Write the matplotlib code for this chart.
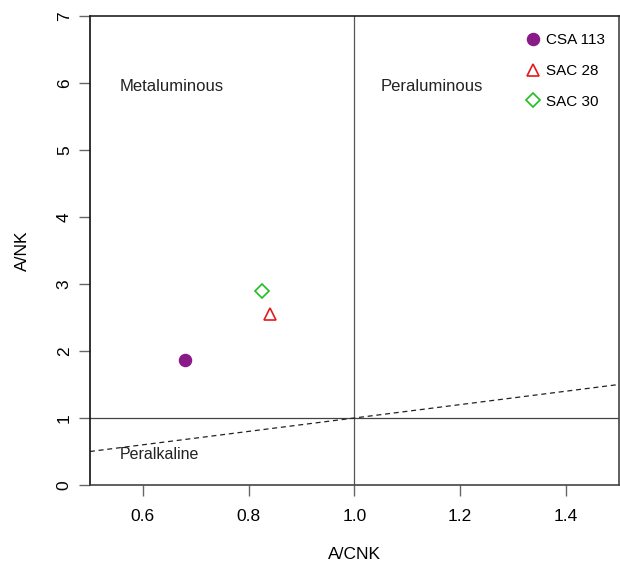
import matplotlib
matplotlib.use("Agg")
import matplotlib.pyplot as plt
import numpy as np

plt.rcParams['font.family'] = ['Liberation Sans', 'DejaVu Sans']

samples = ["CSA 113", "SAC 28", "SAC 30"]
acnk = [0.679, 0.840, 0.825]
ank = [1.87, 2.55, 2.90]
markers = ["o", "^", "D"]
colors = ["#8B1A89", "#E31A1C", "#1FBF1F"]
filled = [True, False, False]

xticks = [0.6, 0.8, 1.0, 1.2, 1.4]
yticks = [0, 1, 2, 3, 4, 5, 6, 7]

fig = plt.figure(figsize=(6.2, 5.65), dpi=100)
ax = fig.add_axes([0.145, 0.1416, 0.853, 0.830])
ax.set_xlim(0.5, 1.5)
ax.set_ylim(0, 7)

# reference lines
ax.axvline(1.0, color="#555555", lw=0.9)
ax.axhline(1.0, color="#444444", lw=0.9)
ax.plot([0.5, 1.5], [0.5, 1.5], ls=(0, (4, 3)), color="#222222", lw=0.9)

handles = []
for s, x, y, m, c, f in zip(samples, acnk, ank, markers, colors, filled):
    size = {"o": 8.5, "^": 8.5, "D": 7}[m]
    h, = ax.plot([x], [y], ls="none", marker=m, ms=size,
                 mfc=c if f else "none", mec=c, mew=1.2, label=s)
    handles.append(h)

ax.legend(handles=handles, loc="upper right", frameon=False, fontsize=11,
          handletextpad=0.25, labelspacing=1.1, bbox_to_anchor=(1.0, 0.993),
          handlelength=1.2, borderaxespad=0.5)

ax.text(0.556, 5.95, "Metaluminous", fontsize=12, ha="left", va="center", color="#222222")
ax.text(1.05, 5.95, "Peraluminous", fontsize=12, ha="left", va="center", color="#222222")
ax.text(0.556, 0.45, "Peralkaline", fontsize=11.5, ha="left", va="center", color="#222222")

ax.set_xticks(xticks)
ax.set_xticklabels([f"{t:.1f}" for t in xticks], fontsize=12.5)
ax.set_yticks(yticks)
ax.set_yticklabels([str(t) for t in yticks], fontsize=12.5, rotation=90, va="center")
ax.tick_params(axis="both", direction="out", length=8, width=1, color="#666666", pad=9)
ax.tick_params(axis="y", pad=5)

for sp in ["left", "bottom", "top", "right"]:
    ax.spines[sp].set_linewidth(1.2)
ax.spines["left"].set_color("#111111")
ax.spines["bottom"].set_color("#444444")
ax.spines["top"].set_color("#222222")
ax.spines["right"].set_color("#444444")

ax.set_xlabel("A/CNK", fontsize=12.5, labelpad=17)
ax.set_ylabel("A/NK", fontsize=12.5, labelpad=19)

fig.savefig("out.png", dpi=100)
